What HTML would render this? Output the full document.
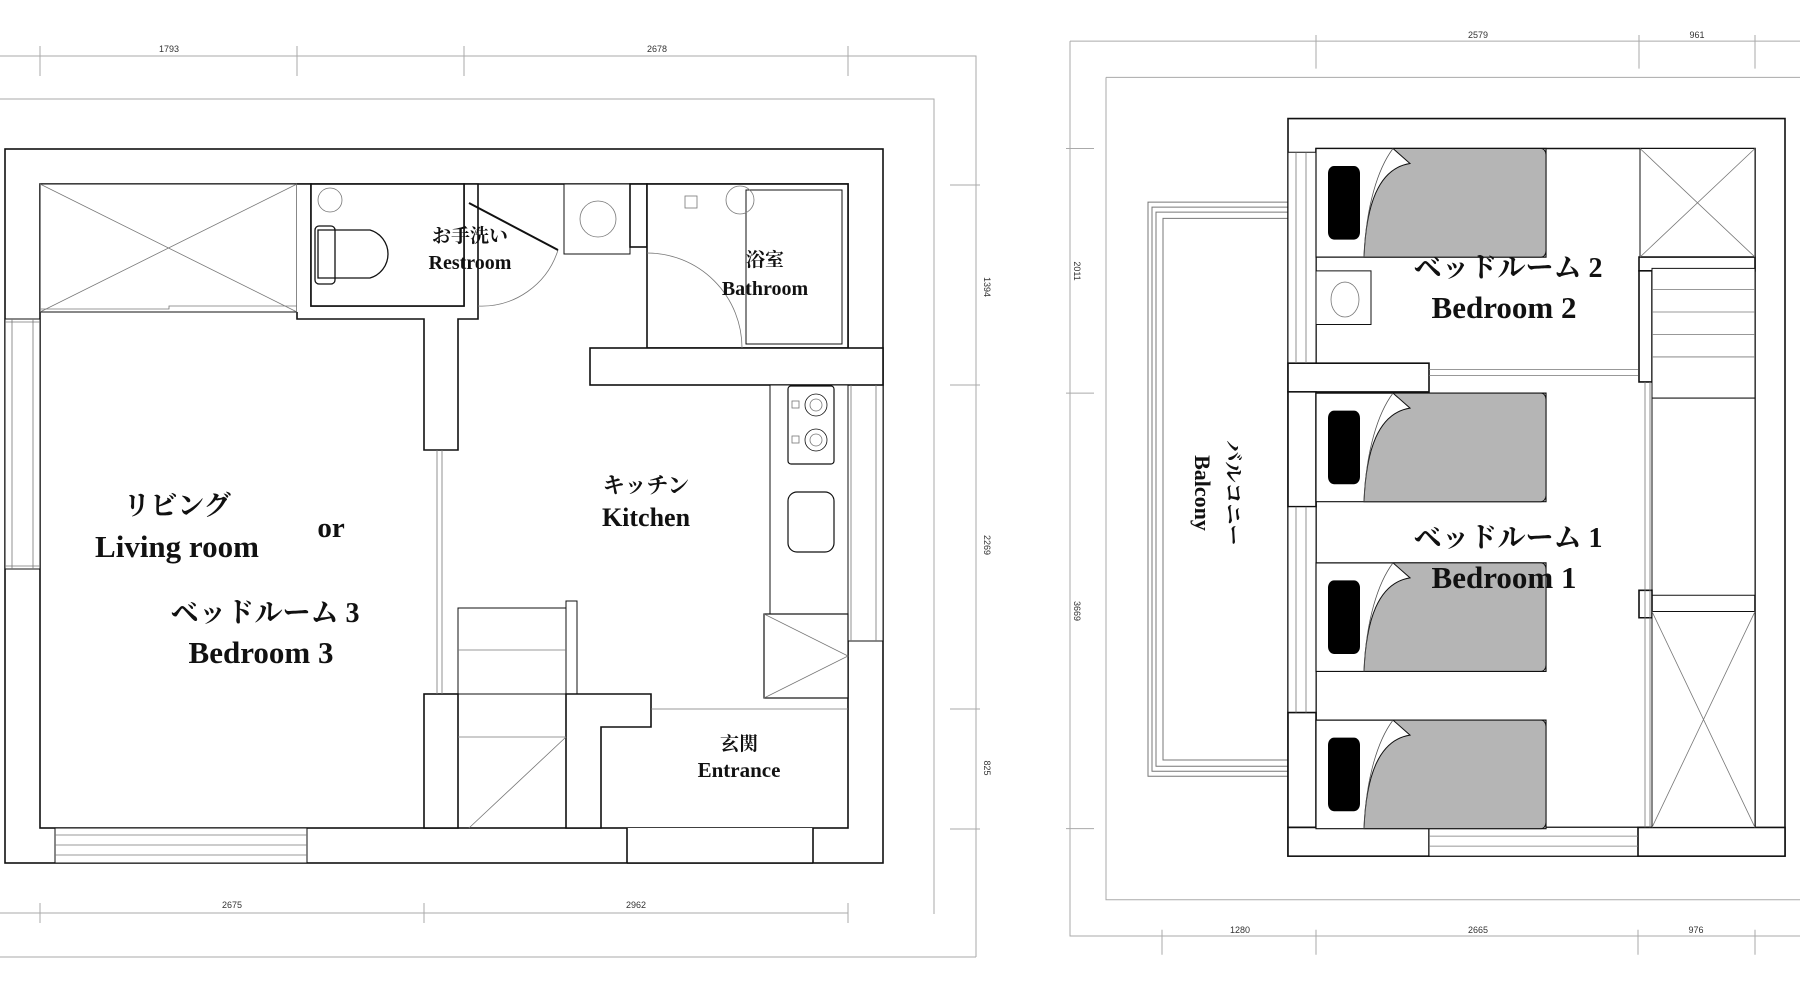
<!DOCTYPE html>
<html><head><meta charset="utf-8"><style>
html,body{margin:0;padding:0;background:#fff;}
svg{display:block;}
text{font-family:"Liberation Serif","Noto Serif CJK SC","Noto Sans CJK JP",serif;font-weight:bold;fill:#111;text-anchor:middle;}
.d{font-family:"Liberation Sans",sans-serif;font-weight:normal;font-size:9px;fill:#333;}
.rp rect,.rp path,.rp circle{vector-effect:non-scaling-stroke;}
</style></head><body>
<svg width="1800" height="1000" viewBox="0 0 1800 1000" xmlns="http://www.w3.org/2000/svg">
<g fill="none" stroke="#aaa" stroke-width="1">
<path d="M0 56H976V957M40 46V76M297 46V76M464 46V76M848 46V76"/>
<path d="M0 99H934V914"/>
<path d="M0 957H976M0 913H848M40 903V923M424 903V923M848 903V923"/>
<path d="M950 185H980M950 385H980M950 709H980M950 829H980"/>
</g>
<text class="d" x="169" y="52">1793</text><text class="d" x="657" y="52">2678</text>
<text class="d" x="232" y="908">2675</text><text class="d" x="636" y="908">2962</text>
<text class="d" transform="translate(984,287) rotate(90)">1394</text>
<text class="d" transform="translate(984,545) rotate(90)">2269</text>
<text class="d" transform="translate(984,768) rotate(90)">825</text>
<text class="d" x="1478" y="38">2579</text><text class="d" x="1697" y="38">961</text>
<text class="d" x="1240" y="933">1280</text><text class="d" x="1478" y="933">2665</text><text class="d" x="1696" y="933">976</text>
<text class="d" transform="translate(1074,271) rotate(90)">2011</text>
<text class="d" transform="translate(1074,611) rotate(90)">3669</text>

<g stroke="#111" stroke-width="1.6" fill="#fff">
<rect x="5" y="149" width="878" height="714"/>
<rect x="40" y="184" width="808" height="644"/>
<rect x="5" y="319" width="35" height="250" stroke-width="1"/>
<rect x="55" y="828" width="252" height="35" stroke-width="1"/>
<rect x="627" y="828" width="186" height="35" stroke="none"/>
<path d="M627 828V863M813 828V863M627 863H813" fill="none"/>
<rect x="848" y="385" width="35" height="256" stroke-width="1"/>
<rect x="40" y="184" width="257" height="128" stroke-width="1"/>
<path d="M297 184H311V306H464V184H478V319H458V450H424V319H297V312" fill="#fff"/>
<rect x="311" y="184" width="153" height="122"/>
<rect x="564" y="184" width="66" height="70" stroke-width="1"/>
<rect x="630" y="184" width="17" height="63"/>
<rect x="647" y="184" width="201" height="164"/>
<rect x="746" y="190" width="96" height="154" stroke-width="1"/>
<rect x="590" y="348" width="293" height="37"/>
<rect x="770" y="385" width="78" height="229" stroke-width="1"/>
<rect x="788" y="386" width="46" height="78" rx="3" stroke-width="1.2"/>
<rect x="788" y="492" width="46" height="60" rx="9" stroke-width="1.2"/>
<rect x="764" y="614" width="84" height="84" stroke-width="1.2"/>
<rect x="458" y="608" width="108" height="86" stroke-width="1"/>
<rect x="566" y="601" width="11" height="93" stroke-width="1"/>
<rect x="424" y="694" width="34" height="134"/>
<path d="M566 694H651V727H601V828H566Z"/>
</g>
<g stroke="#777" stroke-width="0.8" fill="none">
<path d="M40 184L297 312M297 184L40 312"/>
<path d="M40 309H169V306H297"/>
<path d="M5 322H40M5 566H40M12 319V569M33 319V569"/>
<path d="M55 835H307M55 845H307M55 855H307"/>
<path d="M851 385V641M876 385V641"/>
<path d="M764 614L848 656L764 698"/>
<path d="M458 650H566M458 737H566M469 828L566 737"/>
<path d="M437 450V694M442 450V694"/>
<path d="M651 709H848"/>
<path d="M478 306A80 80 0 0 0 558 250"/>
<path d="M647 253A95 95 0 0 1 742 348"/>
<path d="M469 203L558 250" stroke="#111" stroke-width="2"/>
<circle cx="598" cy="219" r="18"/>
<circle cx="816" cy="405" r="11" stroke="#111"/><circle cx="816" cy="405" r="6"/>
<circle cx="816" cy="440" r="11" stroke="#111"/><circle cx="816" cy="440" r="6"/>
<rect x="792" y="401" width="7" height="7"/><rect x="792" y="436" width="7" height="7"/>
<path d="M318 230H370A25 25 0 0 1 370 278H318Z" stroke="#111" stroke-width="1.3"/>
<rect x="315" y="226" width="20" height="58" rx="4" stroke="#111" stroke-width="1.3"/>
<circle cx="330" cy="200" r="12"/>
<circle cx="740" cy="200" r="14"/>
<rect x="685" y="196" width="12" height="12"/>
</g>

<!-- RIGHT PLAN -->
<g class="rp" transform="scale(1,1.248)">
<g fill="none" stroke="#aaa" stroke-width="1">
<path d="M1070 33H1800M1070 33V750H1800M1316 28V55M1639 28V55M1755 28V55"/>
<path d="M1106 62H1800M1106 62V721H1800"/>
<path d="M1066 119H1094M1066 315H1094M1066 664H1094M1162 745V765M1316 745V765M1638 745V765M1755 745V765"/>
</g>
<g stroke="#111" stroke-width="1.6" fill="#fff">
<rect x="1148" y="162" width="140" height="460" stroke="#777" stroke-width="1"/>
<rect x="1152" y="166" width="136" height="452" stroke="#777" stroke-width="1"/>
<rect x="1156" y="170" width="132" height="444" stroke="#777" stroke-width="1"/>
<rect x="1163" y="175" width="125" height="434" stroke="#777" stroke-width="1"/>
<rect x="1288" y="95" width="497" height="591"/>
<rect x="1316" y="119" width="439" height="544"/>
<rect x="1288" y="122" width="28" height="169" stroke-width="1"/>
<rect x="1288" y="291" width="141" height="23"/>
<rect x="1288" y="314" width="28" height="92"/>
<rect x="1288" y="406" width="28" height="165" stroke-width="1"/>
<rect x="1288" y="571" width="28" height="92"/>
<rect x="1288" y="663" width="141" height="23"/>
<rect x="1429" y="663" width="209" height="23" stroke-width="1"/>
<rect x="1638" y="663" width="147" height="23"/>
<rect x="1640" y="119" width="115" height="87" stroke-width="1"/>
<rect x="1639" y="206" width="116" height="11"/>
<rect x="1639" y="217" width="13" height="89"/>
<rect x="1652" y="215" width="103" height="104" stroke-width="1"/>
<rect x="1652" y="319" width="103" height="158" stroke-width="1"/>
<rect x="1639" y="473" width="13" height="22"/>
<rect x="1652" y="490" width="103" height="173" stroke-width="1"/>
<rect x="1316" y="217" width="55" height="43" stroke-width="1"/>
</g>
<g stroke="#777" stroke-width="0.8" fill="none">
<path d="M1640 119L1755 206M1755 119L1640 206"/>
<path d="M1652 490L1755 663M1755 490L1652 663"/>
<path d="M1652 232H1755M1652 250H1755M1652 268H1755M1652 286H1755"/>
<path d="M1429 296H1638M1429 301H1638M1645 306V663M1650 306V663"/>
<path d="M1296 122V291M1306 122V291M1296 406V571M1306 406V571M1429 670H1638M1429 678H1638"/>
<circle cx="1345" cy="240" r="14"/>
</g>
<g id="bed">
<rect x="1316" y="119" width="230" height="87" fill="#fff" stroke="#111" stroke-width="1.2"/>
<path d="M1393 119H1541A5 5 0 0 1 1546 124V201A5 5 0 0 1 1541 206H1364C1366 165 1378 135 1410 131Z" fill="#b5b5b5" stroke="#111" stroke-width="1"/>
<path d="M1364 206C1366 165 1378 135 1393 119" fill="none" stroke="#555" stroke-width="0.8"/>
<rect x="1328" y="133" width="32" height="59" rx="6" fill="#000"/>
</g>
<use href="#bed" y="196"/>
<use href="#bed" y="332"/>
<use href="#bed" y="458"/>
</g>

<text x="470" y="242" font-size="19">お手洗い</text>
<text x="470" y="269" font-size="20">Restroom</text>
<text x="765" y="266" font-size="19">浴室</text>
<text x="765" y="295" font-size="20">Bathroom</text>
<text x="646" y="493" font-size="22">キッチン</text>
<text x="646" y="526" font-size="26">Kitchen</text>
<text x="177" y="515" font-size="27">リビング</text>
<text x="177" y="557" font-size="31">Living room</text>
<text x="331" y="537" font-size="29">or</text>
<text x="265" y="622" font-size="28">ベッドルーム 3</text>
<text x="261" y="663" font-size="31">Bedroom 3</text>
<text x="739" y="750" font-size="19">玄関</text>
<text x="739" y="777" font-size="21">Entrance</text>
<text x="1508" y="277" font-size="28">ベッドルーム 2</text>
<text x="1504" y="318" font-size="31">Bedroom 2</text>
<text x="1508" y="547" font-size="28">ベッドルーム 1</text>
<text x="1504" y="588" font-size="31">Bedroom 1</text>
<text transform="translate(1226,493) rotate(90)" font-size="21">バルコニー</text>
<text transform="translate(1195,493) rotate(90)" font-size="22">Balcony</text>
</svg>
</body></html>
